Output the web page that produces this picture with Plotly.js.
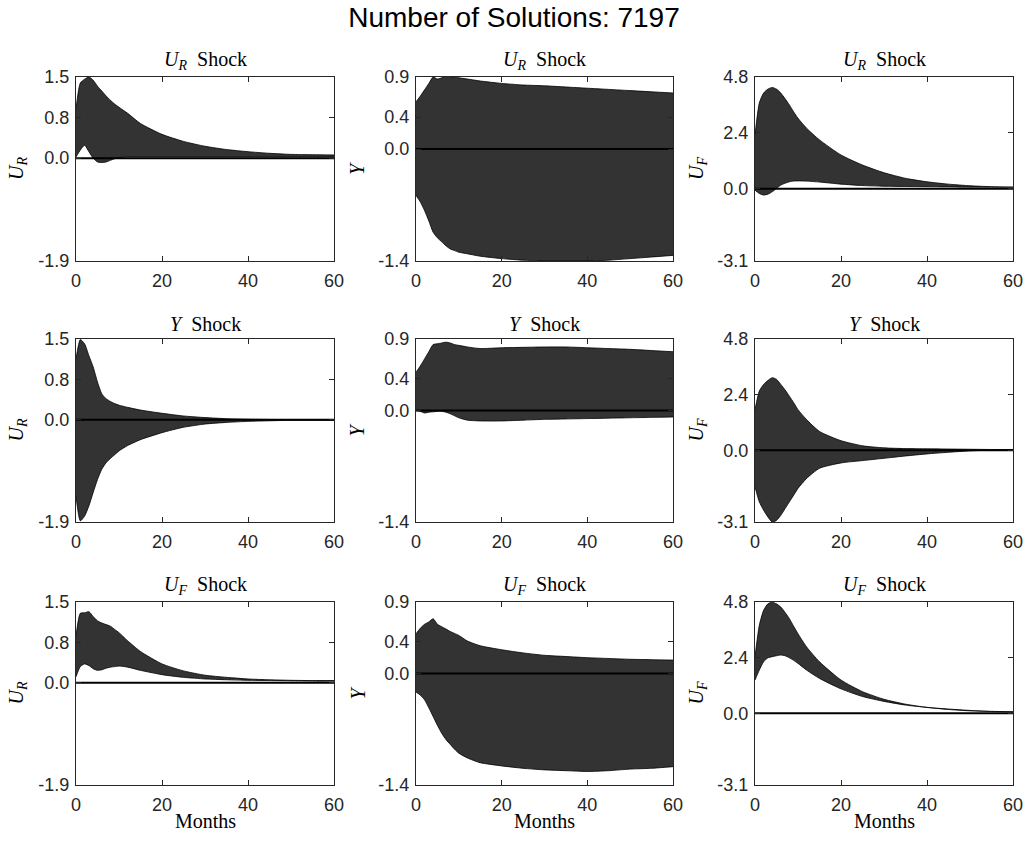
<!DOCTYPE html>
<html><head><meta charset="utf-8">
<script src="https://cdn.plot.ly/plotly-3.0.1.min.js"></script>
<style>html,body{margin:0;padding:0;background:#fff}</style>
</head><body><div id="chart" style="width:1028px;height:843px"></div>
<script>
// ---- data ----
const months = [0,1,2,3,4,5,6,7,8,9,10,12,15,20,25,30,35,40,45,50,55,60];

const shockNames = ['<i>U</i><sub><i>R</i></sub>', '<i>Y</i>', '<i>U</i><sub><i>F</i></sub>'];
const varNames   = ['<i>U</i><sub><i>R</i></sub>', '<i>Y</i>', '<i>U</i><sub><i>F</i></sub>'];
const xTicks = [0, 20, 40, 60];

// y-axis ranges and ticks per response variable (column)
const yMin = [-1.9, -1.4, -3.1];
const yMax = [1.5, 0.9, 4.8];
const yTickVals  = [[-1.9, 0, 0.75, 1.5], [-1.4, 0, 0.4, 0.9], [-3.1, 0, 2.4, 4.8]];
const yTickTexts = [['-1.9','0.0','0.8','1.5'], ['-1.4','0.0','0.4','0.9'], ['-3.1','0.0','2.4','4.8']];

// U_R shock
const urShock_UR_upper = [0.91,1.39,1.46,1.5,1.44,1.33,1.24,1.15,1.07,1.0,0.94,0.83,0.64,0.44,0.31,0.22,0.16,0.12,0.09,0.07,0.065,0.06];
const urShock_UR_lower = [0.02,0.15,0.24,0.12,0.0,-0.07,-0.08,-0.07,-0.04,-0.01,0.01,0.02,0.02,0.02,0.02,0.02,0.02,0.02,0.02,0.02,0.02,0.02];
const urShock_Y_upper  = [0.59,0.66,0.74,0.82,0.9,0.875,0.89,0.91,0.905,0.9,0.89,0.875,0.85,0.82,0.80,0.79,0.775,0.76,0.745,0.73,0.715,0.70];
const urShock_Y_lower  = [-0.58,-0.66,-0.77,-0.9,-1.04,-1.11,-1.16,-1.21,-1.25,-1.27,-1.29,-1.31,-1.34,-1.37,-1.39,-1.4,-1.4,-1.4,-1.39,-1.37,-1.35,-1.33];
const urShock_UF_upper = [2.31,3.68,4.11,4.28,4.35,4.28,4.11,3.87,3.6,3.3,3.03,2.6,2.1,1.45,1.02,0.69,0.45,0.30,0.2,0.13,0.09,0.07];
const urShock_UF_lower = [-0.06,-0.2,-0.27,-0.23,-0.13,0.01,0.16,0.24,0.30,0.33,0.34,0.33,0.29,0.2,0.14,0.11,0.1,0.09,0.08,0.07,0.07,0.07];

// Y shock
const yShock_UR_upper = [1.13,1.49,1.41,1.19,0.98,0.70,0.48,0.39,0.34,0.30,0.27,0.23,0.18,0.12,0.07,0.04,0.02,0.01,0.005,0,0,0];
const yShock_UR_lower = [-1.42,-1.88,-1.79,-1.6,-1.35,-1.11,-0.92,-0.80,-0.72,-0.65,-0.58,-0.48,-0.37,-0.24,-0.14,-0.08,-0.05,-0.03,-0.02,-0.01,-0.01,-0.01];
const yShock_Y_upper  = [0.48,0.56,0.65,0.74,0.83,0.84,0.85,0.86,0.85,0.83,0.82,0.80,0.78,0.79,0.795,0.80,0.80,0.79,0.78,0.77,0.755,0.74];
const yShock_Y_lower  = [0,-0.01,-0.03,-0.02,-0.015,-0.01,-0.01,-0.02,-0.04,-0.065,-0.09,-0.12,-0.13,-0.13,-0.12,-0.11,-0.105,-0.10,-0.095,-0.09,-0.085,-0.08];
const yShock_UF_upper = [1.75,2.55,2.84,3.01,3.13,3.06,2.84,2.6,2.33,2.05,1.75,1.32,0.81,0.41,0.19,0.1,0.07,0.06,0.05,0.04,0.03,0.03];
const yShock_UF_lower = [-1.58,-2.23,-2.59,-2.88,-3.1,-3.03,-2.81,-2.52,-2.23,-1.94,-1.65,-1.22,-0.78,-0.55,-0.45,-0.35,-0.25,-0.16,-0.09,-0.03,0,0];

// U_F shock
const ufShock_UR_upper = [0.87,1.29,1.30,1.32,1.23,1.15,1.11,1.08,1.05,0.99,0.93,0.78,0.58,0.35,0.22,0.14,0.1,0.07,0.055,0.045,0.04,0.04];
const ufShock_UR_lower = [0.11,0.30,0.35,0.32,0.26,0.23,0.24,0.27,0.29,0.30,0.31,0.29,0.23,0.15,0.10,0.07,0.055,0.045,0.04,0.035,0.03,0.03];
const ufShock_Y_upper  = [0.5,0.57,0.62,0.65,0.69,0.62,0.59,0.56,0.53,0.505,0.48,0.41,0.35,0.30,0.26,0.23,0.215,0.20,0.19,0.18,0.175,0.17];
const ufShock_Y_lower  = [-0.23,-0.27,-0.33,-0.43,-0.54,-0.65,-0.75,-0.83,-0.89,-0.95,-1.0,-1.06,-1.12,-1.16,-1.19,-1.21,-1.22,-1.23,-1.22,-1.20,-1.19,-1.17];
const ufShock_UF_upper = [2.44,3.79,4.44,4.72,4.79,4.72,4.58,4.35,4.08,3.75,3.43,2.86,2.22,1.43,0.93,0.6,0.39,0.25,0.16,0.1,0.07,0.06];
const ufShock_UF_lower = [1.43,1.86,2.22,2.39,2.44,2.48,2.51,2.48,2.39,2.28,2.15,1.86,1.5,1.05,0.72,0.51,0.35,0.25,0.18,0.12,0.08,0.06];

const uppers = [
  [urShock_UR_upper, urShock_Y_upper, urShock_UF_upper],
  [yShock_UR_upper,  yShock_Y_upper,  yShock_UF_upper],
  [ufShock_UR_upper, ufShock_Y_upper, ufShock_UF_upper]
];
const lowers = [
  [urShock_UR_lower, urShock_Y_lower, urShock_UF_lower],
  [yShock_UR_lower,  yShock_Y_lower,  yShock_UF_lower],
  [ufShock_UR_lower, ufShock_Y_lower, ufShock_UF_lower]
];

// ---- layout geometry (pixels) ----
const W = 1028, H = 843;
const colPx = [[76,334],[416,673],[755,1013]];
const rowPx = [[77,261],[339,522],[602,785]];
const yLabelX = [17, 357, 697];

const serif = 'Liberation Serif, Times New Roman, serif';
const sans = 'Liberation Sans, Arial, sans-serif';
const axisColor = '#262626';

const traces = [];
const layout = {
  width: W, height: H,
  margin: {l:0, r:0, t:0, b:0},
  paper_bgcolor: '#fff', plot_bgcolor: '#fff',
  showlegend: false,
  annotations: [],
  title: {text: 'Number of Solutions: 7197', font: {family: sans, size: 28, color: '#000'},
          x: 0.5, xanchor: 'center', y: 1 - 17/H, yanchor: 'middle', xref: 'paper', yref: 'paper'}
};

for (let r = 0; r < 3; r++) {
  for (let c = 0; c < 3; c++) {
    const k = r*3 + c + 1;
    const xa = 'x' + (k === 1 ? '' : k), ya = 'y' + (k === 1 ? '' : k);
    const up = uppers[r][c], lo = lowers[r][c];
    const ln = {color: '#000', width: 0.8, shape: 'spline', smoothing: 0.6};
    traces.push({
      x: months, y: lo, xaxis: xa, yaxis: ya, type: 'scatter', mode: 'lines',
      line: ln, hoverinfo: 'skip'
    });
    traces.push({
      x: months, y: up, xaxis: xa, yaxis: ya, type: 'scatter', mode: 'lines',
      fill: 'tonexty', fillcolor: '#333333',
      line: ln, hoverinfo: 'skip'
    });
    traces.push({
      x: [months[0], months[months.length-1]], y: [0, 0],
      xaxis: xa, yaxis: ya, type: 'scatter', mode: 'lines',
      line: {color: '#000', width: 2}, hoverinfo: 'skip'
    });
    const common = {
      showline: true, mirror: 'ticks', linecolor: axisColor, linewidth: 1,
      ticks: 'inside', ticklen: 5, tickcolor: axisColor, tickwidth: 1,
      showgrid: false, zeroline: false, fixedrange: true,
      tickfont: {family: sans, size: 18, color: axisColor}
    };
    layout['xaxis' + (k === 1 ? '' : k)] = Object.assign({}, common, {
      domain: [colPx[c][0]/W, colPx[c][1]/W], range: [0, 60],
      tickvals: xTicks, ticktext: xTicks.map(String),
      anchor: ya, ticklabelstandoff: 3
    });
    layout['yaxis' + (k === 1 ? '' : k)] = Object.assign({}, common, {
      domain: [1 - rowPx[r][1]/H, 1 - rowPx[r][0]/H], range: [yMin[c], yMax[c]],
      tickvals: yTickVals[c], ticktext: yTickTexts[c],
      anchor: xa, ticklabelstandoff: 2
    });
    // subplot title
    layout.annotations.push({
      text: shockNames[r] + '  Shock', xref: 'paper', yref: 'paper',
      x: (colPx[c][0] + colPx[c][1]) / 2 / W, y: 1 - rowPx[r][0]/H,
      xanchor: 'center', yanchor: 'bottom', yshift: 2, showarrow: false,
      font: {family: serif, size: 20, color: '#000'}
    });
    // y label
    layout.annotations.push({
      text: varNames[c], xref: 'paper', yref: 'paper',
      x: yLabelX[c] / W, y: 1 - (rowPx[r][0] + rowPx[r][1]) / 2 / H,
      xanchor: 'center', yanchor: 'middle', textangle: -90, showarrow: false,
      font: {family: serif, size: 20, color: '#000'}
    });
    if (r === 2) {
      layout.annotations.push({
        text: 'Months', xref: 'paper', yref: 'paper',
        x: (colPx[c][0] + colPx[c][1]) / 2 / W, y: 1 - 821/H,
        xanchor: 'center', yanchor: 'middle', showarrow: false,
        font: {family: serif, size: 20, color: '#000'}
      });
    }
  }
}

Plotly.newPlot('chart', traces, layout, {displayModeBar: false, staticPlot: true});
</script>
</body></html>
